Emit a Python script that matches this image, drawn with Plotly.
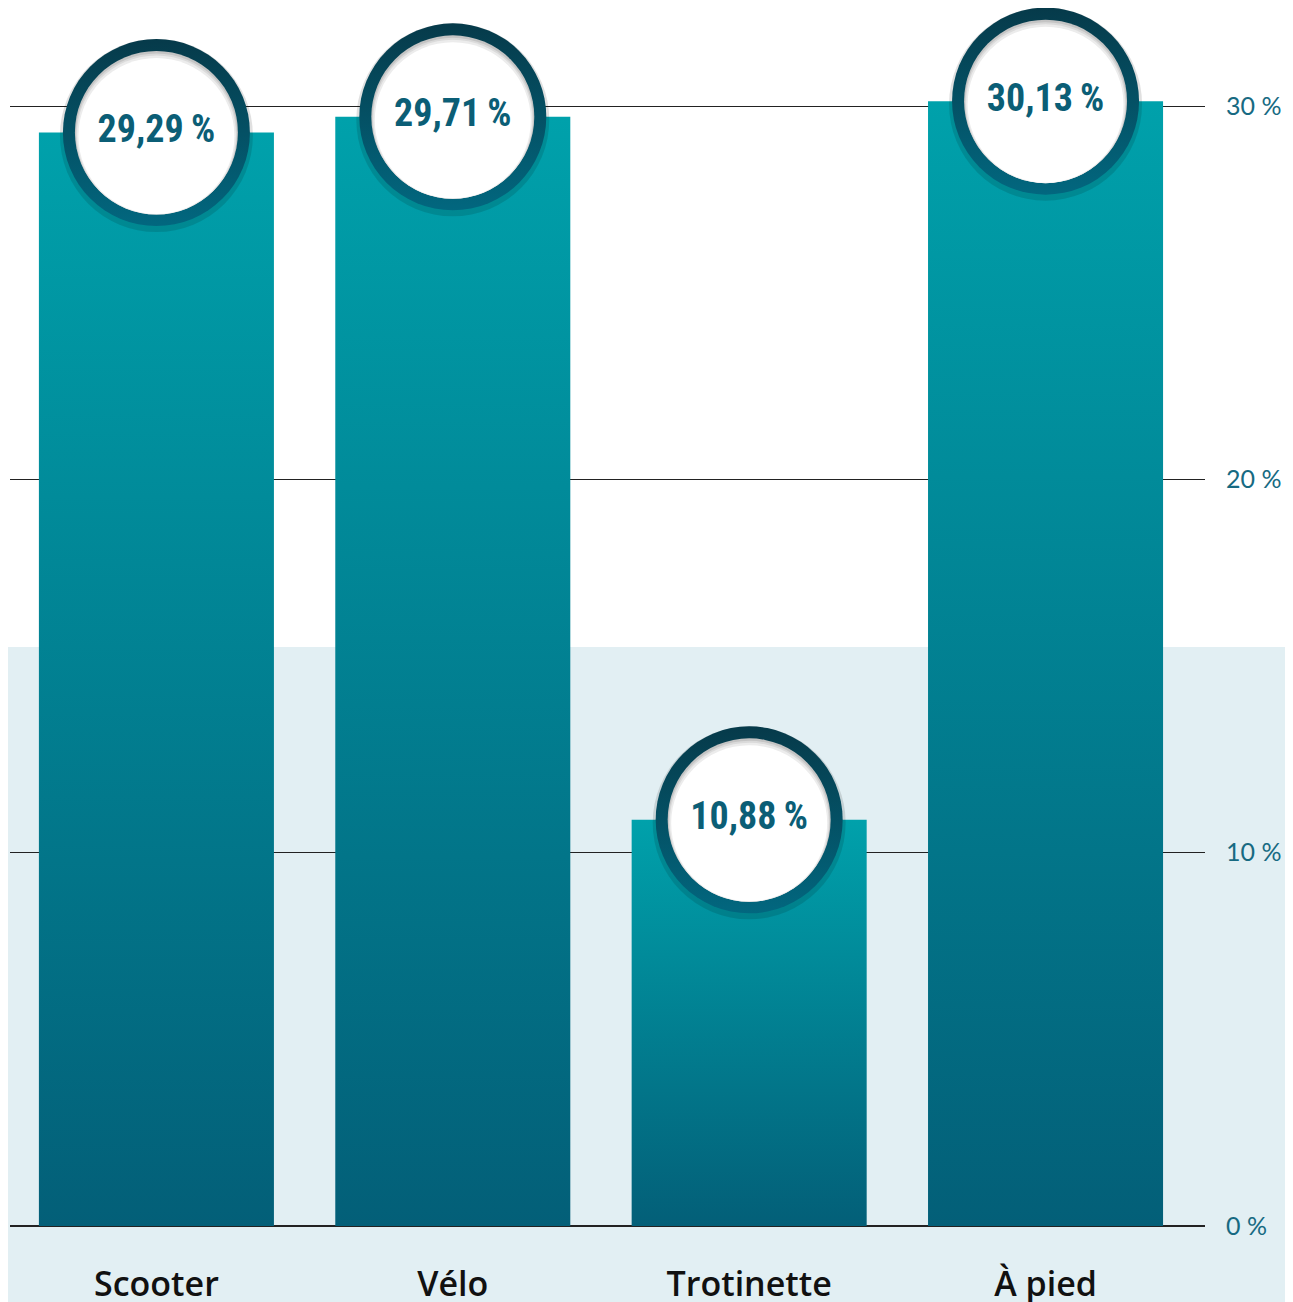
import plotly.graph_objects as go

# data
categories = ["Scooter", "Vélo", "Trotinette", "À pied"]
values = [29.29, 29.71, 10.88, 30.13]
labels = ["29,29\u2009%", "29,71\u2009%", "10,88\u2009%", "30,13\u2009%"]
y_ticks = [0, 10, 20, 30]
y_tick_text = ["0 %", "10 %", "20 %", "30 %"]

# colours
bar_top = "#00a1ab"
bar_bottom = "#035f78"
ring_top = "#063a4a"
ring_bottom = "#02677f"
label_color = "#0b5e76"
band_color = "#e2eff3"

# the page body adds an 8px margin, so the figure is 8px smaller than the window
W, H = 1285, 1294
m_l, m_r, m_t, m_b = 2, 88, 0, 76
y_max = 32.625
px_per_unit = (H - m_t - m_b) / y_max
bar_w = 0.793

fig = go.Figure()

# bars drawn as filled rectangles so each one gets its own vertical gradient
for i, v in enumerate(values):
    x0, x1 = i - bar_w / 2, i + bar_w / 2
    fig.add_trace(go.Scatter(
        x=[x0, x1, x1, x0, x0], y=[0, 0, v, v, 0],
        mode="lines", fill="toself", line=dict(width=0),
        fillgradient=dict(type="vertical",
                          colorscale=[[0, bar_bottom], [1, bar_top]]),
        hoverinfo="skip", showlegend=False,
    ))

xs = list(range(len(values)))

# soft drop shadow behind the badge
fig.add_trace(go.Scatter(
    x=xs, y=[v - 3 / px_per_unit for v in values], mode="markers",
    marker=dict(size=193, color="rgba(0,0,0,0.12)", line=dict(width=0)),
    hoverinfo="skip", showlegend=False, cliponaxis=False,
))

# ring with vertical gradient
fig.add_trace(go.Scatter(
    x=xs, y=values, mode="markers",
    marker=dict(size=187, color=ring_top, line=dict(width=0),
                gradient=dict(type="vertical", color=ring_bottom)),
    hoverinfo="skip", showlegend=False, cliponaxis=False,
))

# inner disk with a light inner shadow at the top
for size, off, col in [(163, 0, "#c4c4c4"), (161, 1.5, "#dadada"),
                       (159, 2.5, "#ececec"), (156, 3.5, "#ffffff")]:
    fig.add_trace(go.Scatter(
        x=xs, y=[v - off / px_per_unit for v in values], mode="markers",
        marker=dict(size=size, color=col, line=dict(width=0)),
        hoverinfo="skip", showlegend=False, cliponaxis=False,
    ))

# value labels
fig.add_trace(go.Scatter(
    x=xs, y=values, mode="text", text=labels,
    textfont=dict(family="Roboto Condensed, Liberation Sans Narrow, DejaVu Sans Condensed, sans-serif",
                  size=38, color=label_color, weight="bold"),
    hoverinfo="skip", showlegend=False, cliponaxis=False,
))

fig.update_layout(
    width=W, height=H,
    margin=dict(l=m_l, r=m_r, t=m_t, b=m_b, autoexpand=False),
    paper_bgcolor="white",
    plot_bgcolor="rgba(0,0,0,0)",
    hovermode=False,
    shapes=[dict(type="rect", xref="paper", yref="paper",
                 x0=-m_l / (W - m_l - m_r), x1=1 + m_r / (W - m_l - m_r),
                 y0=-m_b / (H - m_t - m_b), y1=15.51 / y_max,
                 fillcolor=band_color, line=dict(width=0), layer="below")],
)

fig.update_xaxes(
    range=[-0.494, 3.538], automargin=False,
    tickvals=xs, ticktext=categories,
    showgrid=False, zeroline=False, showline=False, ticks="",
    tickfont=dict(family="Open Sans, sans-serif", size=34, color="#111111", weight=600),
    ticklabelstandoff=35,
)

fig.update_yaxes(
    range=[0, y_max], side="right", automargin=False,
    tickvals=y_ticks, ticktext=y_tick_text,
    showgrid=True, gridcolor="#222222", gridwidth=1,
    zeroline=True, zerolinecolor="#222222", zerolinewidth=1.5,
    showline=False, ticks="",
    tickfont=dict(family="Lato, Open Sans, sans-serif", size=25, color="#176a82", weight=400),
    ticklabelstandoff=20,
)

fig.write_html("out.html")
